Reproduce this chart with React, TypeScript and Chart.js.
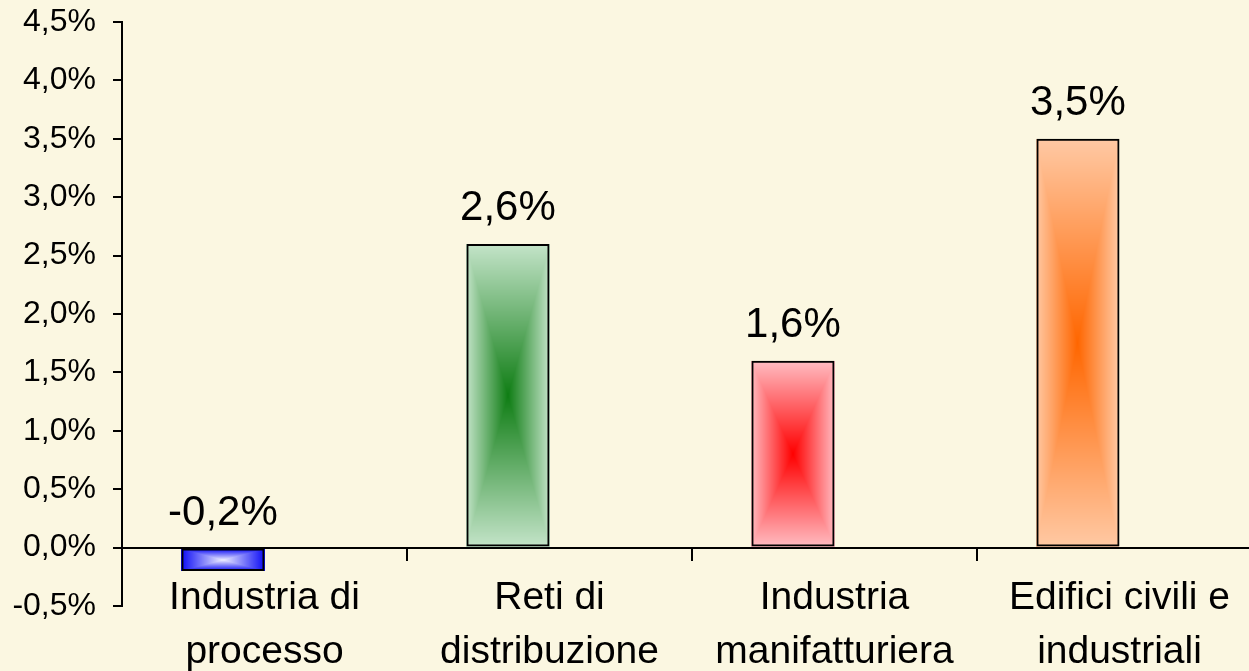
import React, { useEffect, useRef } from "react";
import { Chart, registerables } from "chart.js";

Chart.register(...registerables);

const categories: string[][] = [
  ["Industria di", "processo"],
  ["Reti di", "distribuzione"],
  ["Industria", "manifatturiera"],
  ["Edifici civili e", "industriali"],
];
const values: number[] = [-0.2, 2.6, 1.6, 3.5];
const ghostSeries: (number | null)[] = [null, null, null, null];
const edgeColors: number[][] = [
  [10, 10, 245],
  [196, 228, 201],
  [255, 188, 194],
  [255, 201, 164],
];
const centerColors: number[][] = [
  [238, 238, 255],
  [15, 125, 20],
  [255, 0, 0],
  [255, 102, 0],
];
const yMin = -0.5;
const yMax = 4.5;
const yStep = 0.5;

const FONT = "'Liberation Sans', Arial, sans-serif";
const fmt = (v: number) => v.toFixed(1).replace(".", ",") + "%";

const gradientPlugin = {
  id: "rectGradient",
  beforeDatasetsDraw(chart: any) {
    const meta = chart.getDatasetMeta(0);
    const ctx = chart.ctx;
    meta.data.forEach((bar: any, i: number) => {
      const p = bar.getProps(["x", "y", "base", "width"], true);
      const L = Math.round(p.x - p.width / 2);
      const R = Math.round(p.x + p.width / 2);
      const T = Math.round(Math.min(p.y, p.base));
      const B = Math.round(Math.max(p.y, p.base));
      const w = Math.max(1, R - L);
      const h = Math.max(1, B - T);
      const off = document.createElement("canvas");
      off.width = w;
      off.height = h;
      const octx = off.getContext("2d")!;
      const img = octx.createImageData(w, h);
      const e = edgeColors[i];
      const c = centerColors[i];
      const hw = w / 2;
      const hh = h / 2;
      for (let yy = 0; yy < h; yy++) {
        const dy = Math.abs(yy + 0.5 - hh) / hh;
        for (let xx = 0; xx < w; xx++) {
          const dx = Math.abs(xx + 0.5 - hw) / hw;
          const t = Math.min(1, Math.max(dx, dy));
          const k = (yy * w + xx) * 4;
          img.data[k] = c[0] + (e[0] - c[0]) * t;
          img.data[k + 1] = c[1] + (e[1] - c[1]) * t;
          img.data[k + 2] = c[2] + (e[2] - c[2]) * t;
          img.data[k + 3] = 255;
        }
      }
      octx.putImageData(img, 0, 0);
      ctx.drawImage(off, L, T);
    });
  },
};

const labelPlugin = {
  id: "valueLabels",
  afterDatasetsDraw(chart: any) {
    const meta = chart.getDatasetMeta(0);
    const ctx = chart.ctx;
    ctx.save();
    ctx.font = `42px ${FONT}`;
    ctx.fillStyle = "#000";
    ctx.textAlign = "center";
    ctx.textBaseline = "alphabetic";
    meta.data.forEach((bar: any, i: number) => {
      const p = bar.getProps(["x", "y", "base"], true);
      const top = Math.min(p.y, p.base);
      ctx.fillText(fmt(values[i]), p.x, top - 24);
    });
    ctx.restore();
  },
};

export default function App() {
  const ref = useRef<HTMLCanvasElement>(null);
  useEffect(() => {
    if (!ref.current) return;
    const chart = new Chart(ref.current, {
      type: "bar",
      data: {
        labels: categories,
        datasets: [
          {
            data: values,
            backgroundColor: "rgba(0,0,0,0)",
            borderColor: "#000",
            borderWidth: 2,
            borderSkipped: false,
          },
          {
            data: ghostSeries,
            backgroundColor: "rgba(0,0,0,0)",
            borderWidth: 0,
          },
        ],
      },
      options: {
        responsive: false,
        animation: false,
        devicePixelRatio: 1,
        categoryPercentage: 0.583,
        barPercentage: 1,
        layout: { padding: { left: 0, right: 8, top: 22, bottom: 65 } },
        plugins: {
          legend: { display: false },
          tooltip: { enabled: false },
          title: { display: false },
        },
        scales: {
          x: {
            position: { y: 0 },
            grid: {
              offset: true,
              drawOnChartArea: false,
              drawTicks: true,
              tickLength: 12,
              color: "#000",
              lineWidth: 2,
            },
            border: { display: true, color: "#000", width: 2 },
            ticks: {
              color: "#000",
              font: { family: FONT, size: 39, lineHeight: 1.38 },
              padding: 12,
              maxRotation: 0,
              autoSkip: false,
            },
          },
          y: {
            min: yMin,
            max: yMax,
            afterFit(scale: any) {
              scale.width = 122;
              scale.paddingTop = 0;
              scale.paddingBottom = 0;
            },
            grid: {
              drawOnChartArea: false,
              drawTicks: true,
              tickLength: 9,
              color: "#000",
              lineWidth: 2,
            },
            border: { display: true, color: "#000", width: 2 },
            ticks: {
              stepSize: yStep,
              color: "#000",
              padding: 17,
              font: { family: FONT, size: 32 },
              callback: (v: any) => fmt(Number(v)),
            },
          },
        },
      },
      plugins: [gradientPlugin, labelPlugin],
    });
    return () => chart.destroy();
  }, []);
  return (
    <div
      style={{
        position: "fixed",
        left: 0,
        top: 0,
        width: 1249,
        height: 671,
        overflow: "hidden",
        background: "#fbf7e1",
      }}
    >
      <canvas ref={ref} width={1270} height={671} style={{ display: "block" }} />
    </div>
  );
}
